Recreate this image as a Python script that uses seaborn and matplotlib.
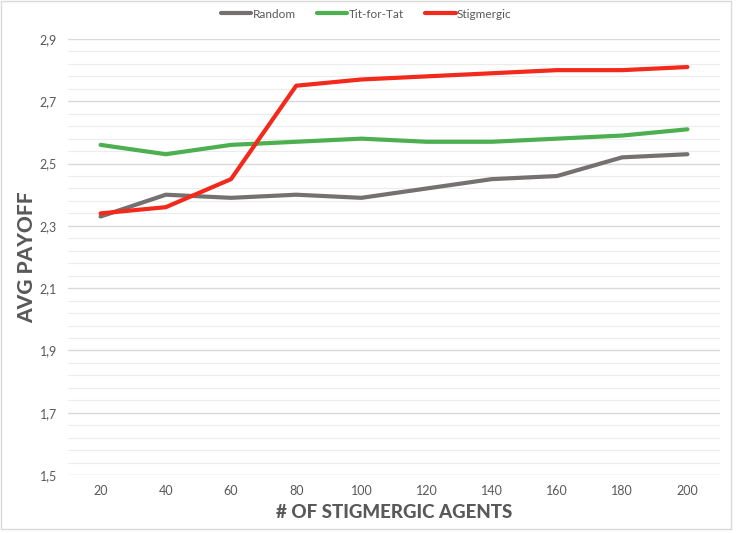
import matplotlib
matplotlib.use("Agg")
import matplotlib.pyplot as plt
import seaborn as sns
import pandas as pd
import numpy as np
from matplotlib.lines import Line2D

agents = ["20", "40", "60", "80", "100", "120", "140", "160", "180", "200"]
random_vals = [2.33, 2.40, 2.39, 2.40, 2.39, 2.42, 2.45, 2.46, 2.52, 2.53]
tft_vals = [2.56, 2.53, 2.56, 2.57, 2.58, 2.57, 2.57, 2.58, 2.59, 2.61]
stig_vals = [2.34, 2.36, 2.45, 2.75, 2.77, 2.78, 2.79, 2.80, 2.80, 2.81]
series_names = ["Random", "Tit-for-Tat", "Stigmergic"]
colors = ["#767171", "#4caf50", "#f2291b"]
y_ticks = [1.5, 1.7, 1.9, 2.1, 2.3, 2.5, 2.7, 2.9]

sns.set_theme(style="white")
plt.rcParams['font.family'] = ['Lato', 'DejaVu Sans']

df = pd.DataFrame({
    "agents": agents * 3,
    "payoff": random_vals + tft_vals + stig_vals,
    "series": [series_names[0]] * 10 + [series_names[1]] * 10 + [series_names[2]] * 10,
})
df["pos"] = list(range(len(agents))) * 3

fig = plt.figure(figsize=(7.36, 5.33), dpi=100)
ax = fig.add_axes([68 / 736, 1 - 475 / 533, (720 - 68) / 736, (475 - 39) / 533])

# gridlines
for v in np.arange(1.5, 2.9001, 0.04):
    major = any(abs(v - t) < 1e-6 for t in y_ticks)
    ax.axhline(v, color="#d9d9d9" if major else "#ececec", lw=1.0 if major else 0.8, zorder=0)

sns.lineplot(data=df, x="pos", y="payoff", hue="series", palette=colors,
             hue_order=series_names, linewidth=3.0, ax=ax, legend=False, sort=False)
for l in ax.lines:
    l.set_solid_capstyle("round")
    l.set_solid_joinstyle("round")

ax.set_xlim(-0.5, 9.5)
ax.set_ylim(1.5, 2.9)
ax.set_xticks(range(len(agents)))
ax.set_xticklabels(agents)
ax.set_yticks(y_ticks)
ax.set_yticklabels([f"{t:.1f}".replace(".", ",") for t in y_ticks])
ax.tick_params(axis="both", length=0, labelsize=9, labelcolor="#595959")
ax.tick_params(axis="x", pad=7)
ax.tick_params(axis="y", pad=8)
for s in ax.spines.values():
    s.set_visible(False)

ax.set_xlabel("")
ax.set_ylabel("")
fig.text(394 / 736, 1 - 512 / 533, "# OF STIGMERGIC AGENTS", ha="center", va="center",
         fontsize=13.5, fontweight="black", color="#595959")
fig.text(27 / 736, 1 - 257 / 533, "AVG PAYOFF", ha="center", va="center", rotation=90,
         fontsize=15, fontweight="black", color="#595959")

handles = [Line2D([0], [0], color=c, lw=3.0) for c in colors]
fig.legend(handles, series_names, loc="center", bbox_to_anchor=(366 / 736, 1 - 14 / 533),
           ncol=3, frameon=False, fontsize=8.5, handlelength=2.6, handletextpad=0.1,
           columnspacing=1.8, labelcolor="#595959")

# figure border
fig.add_artist(plt.Rectangle((0.002, 0.008), 0.991, 0.99, transform=fig.transFigure,
                             fill=False, edgecolor="#d9d9d9", lw=1.0))

fig.savefig("out.png", dpi=100)
